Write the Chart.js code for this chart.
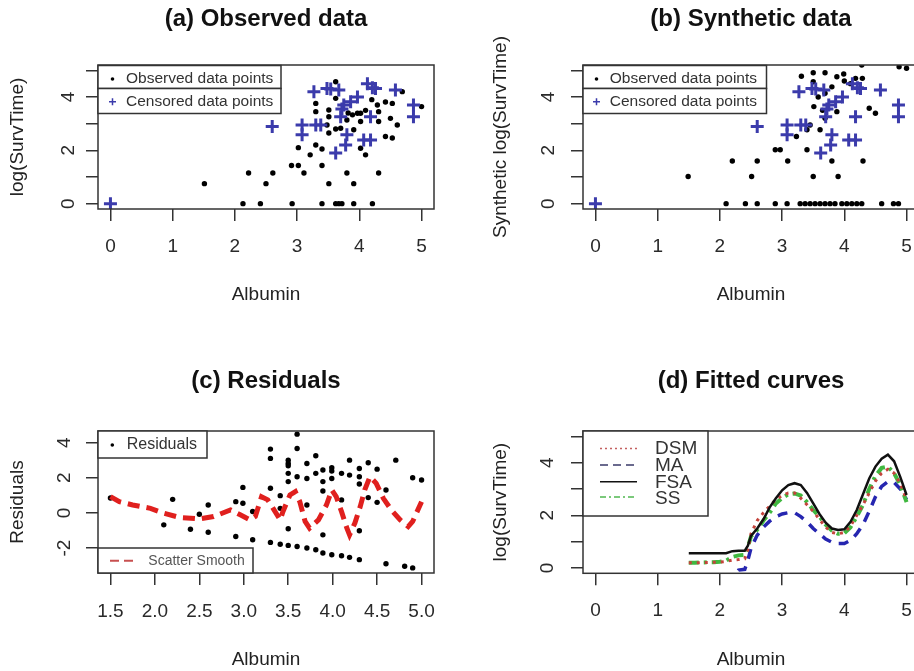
<!DOCTYPE html>
<html>
<head>
<meta charset="utf-8">
<script src="https://cdn.jsdelivr.net/npm/chart.js@4.4.1/dist/chart.umd.min.js"></script>
<style>
  html, body { margin: 0; padding: 0; background: #fff; width: 914px; height: 671px; overflow: hidden; }
  .panel { position: absolute; }
</style>
</head>
<body>
<div class="panel" style="left:0;top:0"><canvas id="pa" width="457" height="335"></canvas></div>
<div class="panel" style="left:457px;top:0"><canvas id="pb" width="480" height="335"></canvas></div>
<div class="panel" style="left:0;top:335px"><canvas id="pc" width="457" height="336"></canvas></div>
<div class="panel" style="left:457px;top:335px"><canvas id="pd" width="480" height="336"></canvas></div>
<script>
// observed data (a)
const obsX = [1.51,2.13,2.22,2.41,2.5,2.61,2.91,3.02,2.92,3.02,3.11,3.21,3.3,3.4,3.4,3.4,3.51,3.62,3.67,3.72,3.8,3.91,3.91,4.21,4.1,4.31,4.02,
  3.62,3.3,3.3,3.51,3.51,3.62,3.48,3.51,3.62,3.7,3.8,3.89,3.97,4.02,4.02,3.91,4.29,4.31,4.31,4.42,4.53,4.5,4.61,4.42,4.53,4.69,5.0,4.2,4.1,3.82];
const obsY = [0.75,0,1.15,0,0.75,1.15,1.43,1.43,0,2.1,1.15,1.83,2.2,2.05,1.43,0,0.75,0,0,0,1.15,0.75,0,0,1.83,1.15,2.08,
  4.57,3.76,3.45,3.51,3.26,3.95,2.95,2.65,2.8,2.83,3.14,3.33,3.39,3.39,3.08,2.77,3.7,3.45,3.08,3.81,3.76,3.2,2.95,2.52,2.46,4.2,3.64,3.9,3.5,3.4];

// censored points (same in a and b)
const censX = [0,2.6,3.08,3.08,3.3,3.38,3.27,3.48,3.67,3.75,3.7,3.86,3.97,4.13,4.26,4.18,4.07,4.18,3.8,3.78,3.62,4.58,4.87,4.87,3.72,3.54,4.21];
const censY = [0,2.89,2.95,2.58,2.95,2.95,4.2,4.32,4.26,3.7,3.26,3.82,4.0,4.5,4.32,3.26,2.39,2.39,2.58,2.2,1.9,4.26,3.7,3.26,3.55,4.3,4.35];

// synthetic data (b)
const synX = [2.1,2.41,2.6,2.89,3.08,3.29,3.37,3.45,3.53,3.61,3.69,3.77,3.85,3.96,4.04,4.12,4.2,4.28,4.6,4.79,4.87,
  1.49,2.51,3.5,3.9, 2.2,2.6,3.09,3.8,4.3, 2.89,2.97,3.4,
  3.23,3.4,3.61,3.69,3.88,3.51,3.31,3.5,3.69,3.88,3.99,4.18,4.29,3.5,3.8,4.0,4.4,4.5,4.88,5.0,4.28,3.58,3.69,4.1,3.45,3.65];
const synY = [0,0,0,0,0,0,0,0,0,0,0,0,0,0,0,0,0,0,0,0,0,
  1.02,1.02,1.02,1.02, 1.6,1.6,1.6,1.6,1.6, 2.02,2.02,2.02,
  2.52,2.77,2.77,3.2,3.45,3.64,4.78,4.91,4.91,4.76,4.86,4.7,4.7,4.57,4.38,4.6,3.58,3.39,5.13,5.08,5.2,4.0,4.14,4.5,2.95,3.5];

// residuals (c)
const residX = [1.5,2.1,2.2,2.4,2.5,2.6,2.6,2.91,2.91,2.99,2.99,3.1,3.1,3.3,3.3,3.3,3.3,3.41,3.41,3.41,3.5,3.5,3.5,3.5,3.5,3.5,3.5,
  3.6,3.6,3.6,3.6,3.71,3.71,3.71,3.71,3.81,3.81,3.81,3.89,3.89,3.89,3.89,3.89,3.99,3.99,3.99,3.99,4.1,4.1,4.1,4.19,4.19,4.19,
  4.3,4.3,4.3,4.3,4.3,4.4,4.4,4.5,4.5,4.6,4.6,4.71,4.81,4.9,4.9,5.0];
const residY = [0.85,-0.68,0.77,-0.93,-0.08,0.45,-1.1,0.64,-1.34,1.45,0.55,0.08,-1.53,3.63,3.1,1.4,-1.68,0.98,0.26,-1.78,3.0,2.81,2.68,2.25,1.78,-0.9,-1.85,
  4.48,3.66,2.06,-1.91,2.81,1.96,0.45,-2.0,3.25,2.25,-2.1,2.44,1.78,1.25,-1.25,-2.28,2.57,2.38,1.96,-2.38,2.25,0.74,-2.44,3.0,2.15,-2.53,
  2.53,2.06,1.64,-1.02,-2.66,2.85,0.87,2.49,0.6,1.3,-2.89,3.0,-3.04,2.0,-3.13,1.87];
const smoothX = [1.5,1.6,1.75,1.95,2.1,2.28,2.5,2.66,2.85,2.96,3.07,3.13,3.2,3.27,3.33,3.41,3.44,3.52,3.58,3.63,
  3.69,3.74,3.84,3.93,3.99,4.04,4.1,4.16,4.19,4.25,4.31,4.36,4.42,4.49,4.57,4.66,4.76,4.85,4.9,5.0];
const smoothY = [0.93,0.64,0.45,0.26,-0.02,-0.26,-0.34,-0.21,0.17,-0.11,-0.4,-0.2,0.92,0.74,0.26,-0.4,0.07,1.02,1.21,0.64,
  -0.49,-0.87,-0.4,0.45,1.3,0.92,0.07,-0.87,-1.25,-0.58,0.36,1.3,2.06,1.68,0.83,0.17,-0.4,-0.78,-0.49,0.64];

// fitted curves (d)
const curveX = [1.5,1.6,1.7,1.8,1.9,2.0,2.1,2.2,2.3,2.4,2.45,2.5,2.6,2.7,2.8,2.9,3.0,3.1,3.2,3.3,3.4,3.5,3.6,3.7,3.8,3.9,4.0,
  4.1,4.2,4.3,4.4,4.5,4.6,4.7,4.8,4.9,5.0];
const dsmY = [0.2,0.2,0.2,0.21,0.22,0.23,0.25,0.3,0.32,0.35,0.7,1.3,1.8,2.1,2.35,2.6,2.75,2.85,2.85,2.65,2.4,2.15,1.85,1.55,1.35,1.3,1.35,
  1.6,2.0,2.4,2.85,3.3,3.6,3.75,3.6,3.2,2.6];
const maY = [-0.6,-0.6,-0.6,-0.55,-0.5,-0.5,-0.45,-0.4,-0.08,-0.05,0.3,0.75,1.25,1.55,1.78,1.95,2.05,2.1,2.1,1.95,1.75,1.5,1.3,1.1,0.98,0.93,0.93,
  1.05,1.3,1.65,2.15,2.7,3.1,3.28,3.25,3.0,2.6];
const fsaY = [0.56,0.56,0.56,0.56,0.56,0.56,0.56,0.64,0.66,0.66,0.85,1.22,1.5,1.85,2.3,2.65,2.95,3.15,3.22,3.15,2.85,2.45,2.05,1.72,1.5,1.44,1.47,
  1.75,2.2,2.8,3.4,3.85,4.15,4.3,4.05,3.45,2.77];
const ssY = [0.2,0.2,0.21,0.22,0.22,0.24,0.28,0.42,0.48,0.5,0.8,1.2,1.45,1.8,2.1,2.45,2.65,2.8,2.83,2.75,2.5,2.2,1.95,1.65,1.42,1.3,1.32,
  1.55,1.95,2.4,3.0,3.5,3.8,3.85,3.6,3.15,2.5];

// ticks
const albuminTicks = [0, 1, 2, 3, 4, 5];
const survTicks = [0, 1, 2, 3, 4, 5];
const survLabels = [0, 2, 4];
const residAlbTicks = [1.5, 2.0, 2.5, 3.0, 3.5, 4.0, 4.5, 5.0];
const residTicks = [-2, 0, 2, 4];

const FONT = '"Liberation Sans", Arial, Helvetica, sans-serif';
Chart.defaults.font.family = FONT;
Chart.defaults.color = '#222';

const pts = (xs, ys) => xs.map((x, i) => ({ x: x, y: ys[i] }));

// box around the plot region + R style legend boxes
const rframe = {
  id: 'rframe',
  afterDraw(chart, args, opts) {
    const ctx = chart.ctx, a = chart.chartArea;
    ctx.save();
    ctx.strokeStyle = '#333';
    ctx.lineWidth = 1.5;
    ctx.strokeRect(a.left, a.top, a.right - a.left, a.bottom - a.top);
    (opts.boxes || []).forEach(b => {
      const top = b.anchor === 'bottom' ? a.bottom - b.h : a.top + b.y;
      const left = a.left;
      ctx.fillStyle = '#fff';
      ctx.fillRect(left, top, b.w, b.h);
      ctx.strokeStyle = '#333';
      ctx.lineWidth = 1.5;
      ctx.setLineDash([]);
      ctx.strokeRect(left, top, b.w, b.h);
      ctx.font = b.size + 'px ' + FONT;
      ctx.textBaseline = 'middle';
      ctx.textAlign = 'left';
      b.items.forEach(it => {
        const ds = chart.data.datasets[it.ds];
        const cy = top + it.y;
        const sx = left + b.symX;
        if (it.sym === 'dot') {
          ctx.fillStyle = ds.backgroundColor;
          ctx.beginPath(); ctx.arc(sx, cy, 1.8, 0, Math.PI * 2); ctx.fill();
        } else if (it.sym === 'cross') {
          ctx.strokeStyle = ds.borderColor; ctx.lineWidth = 1.5;
          ctx.beginPath();
          ctx.moveTo(sx - 3.5, cy); ctx.lineTo(sx + 3.5, cy);
          ctx.moveTo(sx, cy - 3.5); ctx.lineTo(sx, cy + 3.5);
          ctx.stroke();
        } else {
          const ly = it.ly != null ? top + it.ly : cy;
          ctx.strokeStyle = it.color || ds.borderColor; ctx.lineWidth = it.lw || 1.5;
          ctx.setLineDash(it.dash || []);
          ctx.beginPath(); ctx.moveTo(sx, ly); ctx.lineTo(sx + b.symW, ly); ctx.stroke();
          ctx.setLineDash([]);
        }
        ctx.fillStyle = b.color;
        ctx.fillText(ds.label, left + b.textX, cy);
      });
    });
    ctx.restore();
  }
};

function xAxis(o) {
  return {
    type: 'linear', position: 'bottom', min: o.min, max: o.max,
    afterBuildTicks: s => { s.ticks = o.ticks.map(v => ({ value: v })); },
    afterFit: s => { s.height = o.size; },
    grid: { drawOnChartArea: false, drawTicks: true, tickLength: 12, color: '#333', lineWidth: 1.5 },
    border: { display: false },
    ticks: { autoSkip: false, minRotation: 0, maxRotation: 0, padding: o.tickPad, color: '#2a2a2a',
      font: { size: 19 }, callback: o.fmt || (v => String(v)) },
    title: { display: true, text: 'Albumin', color: '#222', font: { size: 19 }, padding: { top: 0, bottom: o.titlePad } }
  };
}

function yAxis(o) {
  return {
    type: 'linear', position: 'left', min: o.min, max: o.max,
    afterBuildTicks: s => { s.ticks = o.ticks.map(v => ({ value: v })); },
    afterFit: s => { s.width = o.size; },
    grid: { drawOnChartArea: false, drawTicks: true, tickLength: 12, color: '#333', lineWidth: 1.5 },
    border: { display: false },
    ticks: { autoSkip: false, minRotation: 90, maxRotation: 90, crossAlign: 'center', padding: o.tickPad,
      color: '#2a2a2a', font: { size: 19 },
      callback: v => (o.labels ? (o.labels.includes(v) ? String(v) : '') : String(v)) },
    title: { display: true, text: o.title, color: '#222', font: { size: 19 }, padding: { top: o.titlePad, bottom: 0 } }
  };
}

function panel(id, o) {
  return new Chart(document.getElementById(id), {
    type: 'scatter',
    data: { datasets: o.datasets },
    options: {
      responsive: false,
      animation: false,
      events: [],
      layout: { padding: { left: 0, right: o.padRight, top: 0, bottom: 0 } },
      plugins: {
        legend: { display: false },
        tooltip: { enabled: false },
        title: { display: true, text: o.title, fullSize: false, color: '#111',
          font: { size: 24, weight: 'bold' }, padding: o.titlePad },
        rframe: { boxes: o.boxes }
      },
      scales: { x: xAxis(o.x), y: yAxis(o.y) }
    },
    plugins: [rframe]
  });
}

const obsStyle = { pointRadius: 2.7, pointBackgroundColor: '#000', backgroundColor: '#000', pointBorderWidth: 0, clip: 0 };
const censStyle = { pointStyle: 'cross', pointRadius: 6.5, pointBorderWidth: 3, borderColor: '#3b3bab',
  pointBorderColor: '#3b3bab', clip: 0 };

const topLegend = (symX, textX, w) => [
  { y: 0.5, h: 23, w: w, size: 15.5, color: '#333', symX: symX, textX: textX, items: [{ ds: 0, y: 13.5, sym: 'dot' }] },
  { y: 23.5, h: 25, w: w, size: 15.5, color: '#333', symX: symX, textX: textX, items: [{ ds: 1, y: 13.2, sym: 'cross' }] }
];

panel('pa', {
  title: '(a) Observed data',
  titlePad: { top: 5, bottom: 31.2 },
  padRight: 23,
  x: { min: -0.2, max: 5.2, ticks: albuminTicks, size: 126, tickPad: 14.3, titlePad: 29 },
  y: { min: -0.2, max: 5.2, ticks: survTicks, labels: survLabels, size: 98, tickPad: 12.4, titlePad: 6, title: 'log(SurvTime)' },
  datasets: [
    Object.assign({ label: 'Observed data points', data: pts(obsX, obsY), order: 2 }, obsStyle),
    Object.assign({ label: 'Censored data points', data: pts(censX, censY), order: 1 }, censStyle)
  ],
  boxes: topLegend(14.5, 28, 183)
});

panel('pb', {
  title: '(b) Synthetic data',
  titlePad: { top: 5, bottom: 31.2 },
  padRight: 18,
  x: { min: -0.2, max: 5.2, ticks: albuminTicks, size: 126, tickPad: 14.3, titlePad: 29 },
  y: { min: -0.2, max: 5.2, ticks: survTicks, labels: survLabels, size: 126, tickPad: 17, titlePad: 32.6, title: 'Synthetic log(SurvTime)' },
  datasets: [
    Object.assign({ label: 'Observed data points', data: pts(synX, synY), order: 2 }, obsStyle),
    Object.assign({ label: 'Censored data points', data: pts(censX, censY), order: 1 }, censStyle)
  ],
  boxes: topLegend(13.5, 26.7, 183.5)
});

panel('pc', {
  title: '(c) Residuals',
  titlePad: { top: 31.6, bottom: 35.6 },
  padRight: 23,
  x: { min: 1.36, max: 5.14, ticks: residAlbTicks, size: 98, tickPad: 15.3, titlePad: 0, fmt: v => v.toFixed(1) },
  y: { min: -3.42, max: 4.66, ticks: residTicks, size: 98, tickPad: 12.5, titlePad: 6.5, title: 'Residuals' },
  datasets: [
    Object.assign({ label: 'Residuals', data: pts(residX, residY), order: 2 }, obsStyle),
    { label: 'Scatter Smooth', data: pts(smoothX, smoothY), showLine: true, pointRadius: 0, borderColor: '#e0201e',
      borderWidth: 5, borderDash: [12, 7], order: 1, clip: 0 }
  ],
  boxes: [
    { y: 0, h: 27, w: 109, size: 16, color: '#333', symX: 14.3, textX: 28.7, items: [{ ds: 0, y: 14, sym: 'dot' }] },
    { anchor: 'bottom', h: 25, w: 155, size: 14, color: '#555', symX: 12, symW: 27, textX: 50.3,
      items: [{ ds: 1, y: 12.8, sym: 'line', dash: [9, 5], lw: 2, color: '#c85050' }] }
  ]
});

panel('pd', {
  title: '(d) Fitted curves',
  titlePad: { top: 31.6, bottom: 35.6 },
  padRight: 18,
  x: { min: -0.2, max: 5.2, ticks: albuminTicks, size: 97.7, tickPad: 13.8, titlePad: 0 },
  y: { min: -0.2, max: 5.2, ticks: survTicks, labels: survLabels, size: 126, tickPad: 17.7, titlePad: 32.6, title: 'log(SurvTime)' },
  datasets: [
    { label: 'DSM', data: pts(curveX, dsmY), showLine: true, pointRadius: 0, borderColor: '#c4443c',
      borderWidth: 3, borderDash: [3, 5], order: 1, clip: 0 },
    { label: 'MA', data: pts(curveX, maY), showLine: true, pointRadius: 0, borderColor: '#2626b0',
      borderWidth: 3.5, borderDash: [10, 8], order: 3, clip: 0 },
    { label: 'FSA', data: pts(curveX, fsaY), showLine: true, pointRadius: 0, borderColor: '#111',
      borderWidth: 2.5, order: 0, clip: 0 },
    { label: 'SS', data: pts(curveX, ssY), showLine: true, pointRadius: 0, borderColor: '#40b840',
      borderWidth: 4, borderDash: [10, 5, 3, 5], order: 2, clip: 0 }
  ],
  boxes: [
    { y: 0, h: 85, w: 125, size: 19, color: '#333', symX: 17, symW: 37, textX: 72,
      items: [
        { ds: 0, y: 18, ly: 17.5, sym: 'line', dash: [2, 3], lw: 1.5, color: '#c46060' },
        { ds: 1, y: 34.5, ly: 34, sym: 'line', dash: [8, 5], lw: 1.5, color: '#3a3a6a' },
        { ds: 2, y: 51.3, ly: 50.7, sym: 'line', lw: 1.5, color: '#111' },
        { ds: 3, y: 68, ly: 66, sym: 'line', dash: [6, 3, 2, 3], lw: 1.5, color: '#50b850' }
      ] }
  ]
});
</script>
</body>
</html>
